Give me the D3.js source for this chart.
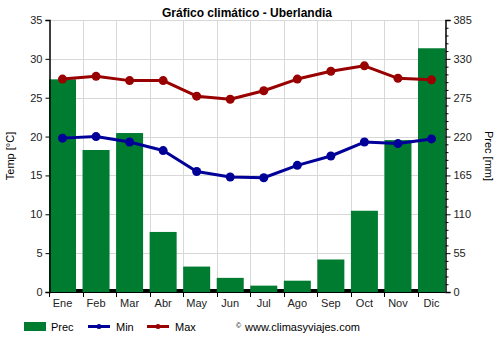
<!DOCTYPE html>
<html>
<head>
<meta charset="utf-8">
<script src="https://cdn.jsdelivr.net/npm/d3@7"></script>
<style>
  body { margin: 0; background: #fff; }
  svg { font-family: "Liberation Sans", Arial, sans-serif; }
</style>
</head>
<body>
<svg id="chart" width="500" height="350"></svg>
<script>
// climate data, Uberlandia
const months = ["Ene", "Feb", "Mar", "Abr", "May", "Jun", "Jul", "Ago", "Sep", "Oct", "Nov", "Dic"];
const prec = [301, 201, 225, 85, 36, 20, 9, 16, 46, 115, 215, 345];
const tmin = [19.8, 20.0, 19.3, 18.2, 15.5, 14.8, 14.7, 16.3, 17.5, 19.3, 19.1, 19.7];
const tmax = [27.4, 27.75, 27.2, 27.2, 25.2, 24.8, 25.9, 27.4, 28.4, 29.1, 27.5, 27.3];
const tempTicks = [0, 5, 10, 15, 20, 25, 30, 35];
const precTicks = [0, 55, 110, 165, 220, 275, 330, 385];

const svg = d3.select("#chart");
const margins = { top: 20, right: 55, bottom: 58, left: 49 };
const width = 500, height = 350;
const x0 = margins.left, x1 = width - margins.right;
const y0 = height - margins.bottom, y1 = margins.top;

const green = "#007c30", red = "#990000", blue = "#000099";

// scales
const x = d3.scaleBand().domain(months).range([x0, x1]).paddingInner(0.195).paddingOuter(0);
const yT = d3.scaleLinear().domain([0, 35]).range([y0, y1]);
const yP = d3.scaleLinear().domain([0, 385]).range([y0, y1]);
const cx = m => x(m) + x.bandwidth() / 2;

// grid
const grid = svg.append("g").attr("stroke", "#d8d8d8").attr("stroke-width", 1);
grid.selectAll(".h").data(tempTicks.slice(1))
  .join("line")
  .attr("x1", x0).attr("x2", x1)
  .attr("y1", d => Math.round(yT(d)) + 0.5).attr("y2", d => Math.round(yT(d)) + 0.5);
grid.selectAll(".v").data(months.slice(1))
  .join("line")
  .attr("x1", d => Math.round(x(d)) + 0.5).attr("x2", d => Math.round(x(d)) + 0.5)
  .attr("y1", y1).attr("y2", y0);

// bottom black strip
svg.append("rect")
  .attr("x", x0).attr("y", y0 - 3)
  .attr("width", x1 - x0).attr("height", 3)
  .attr("fill", "black");

// bars
svg.append("g").selectAll("rect")
  .data(prec)
  .join("rect")
  .attr("x", (d, i) => x(months[i]))
  .attr("y", d => yP(d))
  .attr("width", x.bandwidth())
  .attr("height", d => y0 - yP(d))
  .attr("fill", green);

// lines
function drawSeries(vals, color) {
  const line = d3.line().x((d, i) => cx(months[i])).y(d => yT(d));
  svg.append("path")
    .datum(vals)
    .attr("d", line)
    .attr("fill", "none")
    .attr("stroke", color)
    .attr("stroke-width", 3)
    .attr("stroke-linejoin", "round");
  svg.append("g").selectAll("circle")
    .data(vals)
    .join("circle")
    .attr("cx", (d, i) => cx(months[i]))
    .attr("cy", d => yT(d))
    .attr("r", 4.5)
    .attr("fill", color);
}
drawSeries(tmax, red);
drawSeries(tmin, blue);

// left axis
const leftAxis = svg.append("g")
  .attr("transform", `translate(${x0 + 0.5},0)`)
  .call(d3.axisLeft(yT).tickValues(tempTicks).tickSize(4).tickPadding(3));
// right axis with minor ticks
const rightAxis = svg.append("g")
  .attr("transform", `translate(${x1 + 0.5},0)`)
  .call(d3.axisRight(yP).tickValues(precTicks).tickSize(5).tickPadding(3));
svg.append("g")
  .attr("transform", `translate(${x1 + 0.5},0)`)
  .call(d3.axisRight(yP).tickValues(d3.range(0, 386, 11).filter(v => v % 55 !== 0)).tickSize(3).tickFormat(""))
  .select(".domain").remove();
// bottom axis
const bottomAxis = svg.append("g")
  .attr("transform", `translate(0,${y0 + 0.5})`)
  .call(d3.axisBottom(x).tickSize(0).tickPadding(7));
bottomAxis.select(".domain").attr("d", `M${x0},0H${x1}`);
svg.append("g").selectAll("line")
  .data(months)
  .join("line")
  .attr("x1", d => Math.round(x(d)) + 0.5).attr("x2", d => Math.round(x(d)) + 0.5)
  .attr("y1", y0).attr("y2", y0 + 5)
  .attr("stroke", "black");

[leftAxis, rightAxis, bottomAxis].forEach(a => {
  a.selectAll("text").attr("font-size", 11).attr("fill", "#222").attr("font-family", "Liberation Sans, Arial, sans-serif");
  a.selectAll("line, path").attr("stroke", "black");
});
leftAxis.select(".domain").attr("stroke-width", 1.5);
rightAxis.select(".domain").attr("stroke-width", 1.5);

// titles
svg.append("text")
  .attr("x", 247).attr("y", 17)
  .attr("text-anchor", "middle")
  .attr("font-size", 12).attr("font-weight", "bold")
  .text("Gráfico climático - Uberlandia");

svg.append("text")
  .attr("transform", `translate(14,${(y0 + y1) / 2}) rotate(-90)`)
  .attr("text-anchor", "middle")
  .attr("font-size", 11)
  .text("Temp [°C]");

svg.append("text")
  .attr("transform", `translate(485,${(y0 + y1) / 2}) rotate(90)`)
  .attr("text-anchor", "middle")
  .attr("font-size", 11)
  .text("Prec [mm]");

// legend
const legend = svg.append("g").attr("font-size", 11);
legend.append("rect")
  .attr("x", 24).attr("y", 322).attr("width", 22).attr("height", 9)
  .attr("fill", green);
legend.append("text").attr("x", 51).attr("y", 331).text("Prec");

[[88, blue, "Min"], [147, red, "Max"]].forEach(([lx, c, label]) => {
  legend.append("line")
    .attr("x1", lx).attr("x2", lx + 22).attr("y1", 326.5).attr("y2", 326.5)
    .attr("stroke", c).attr("stroke-width", 3);
  legend.append("circle").attr("cx", lx + 11).attr("cy", 326.5).attr("r", 2.5).attr("fill", c);
  legend.append("text").attr("x", lx + 28).attr("y", 331).text(label);
});

legend.append("text").attr("x", 236).attr("y", 328).attr("font-size", 7).text("©");
legend.append("text").attr("x", 245).attr("y", 331).text("www.climasyviajes.com");
</script>
</body>
</html>
